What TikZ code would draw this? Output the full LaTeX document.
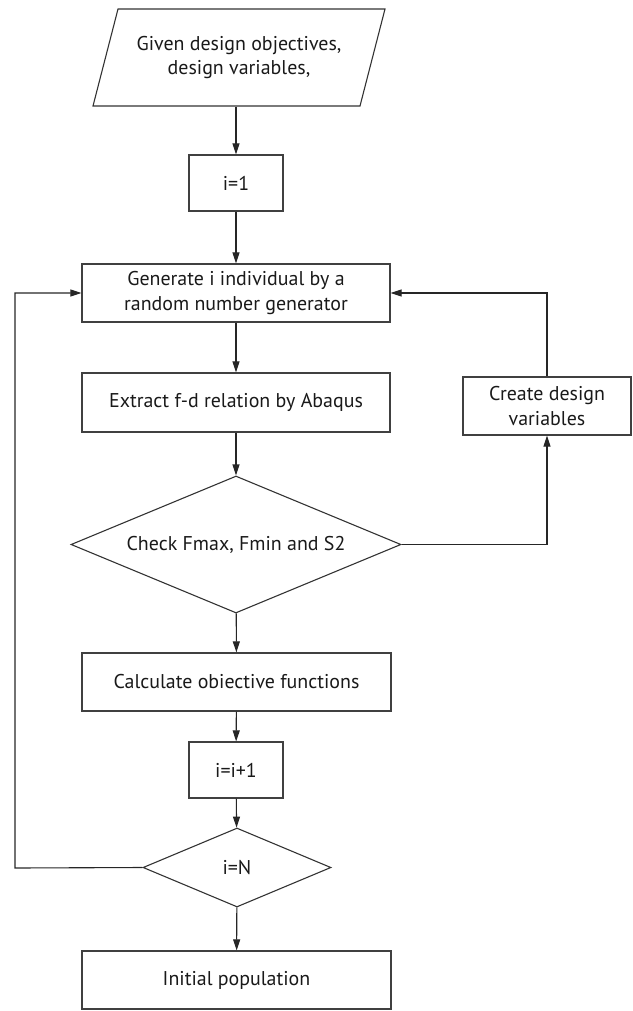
\documentclass[tikz,border=0pt]{standalone}
\usepackage{fontspec}
\setmainfont{PT Sans}
\usetikzlibrary{shapes.geometric,arrows.meta}
\begin{document}
\begin{tikzpicture}[x=1bp,y=-1bp,
  every node/.style={font=\fontsize{20}{25}\selectfont, text=black!90, align=center, inner sep=0pt},
  box/.style={draw=black!75, line width=1.2bp, rectangle},
  dec/.style={draw=black!80, line width=1.1bp, diamond, aspect=2.4},
  io/.style={draw=black!80, line width=1.1bp, trapezium, trapezium left angle=60, trapezium right angle=120, trapezium stretches body=true},
  arr/.style={draw=black!85, line width=1.1bp, -{Triangle[length=11bp,width=7bp]}},
  ln/.style={draw=black!85, line width=1.1bp}]
\useasboundingbox (0,0) rectangle (633,1011);
\node[io, minimum width=292bp, minimum height=97bp] (in) at (239,57.5) {Given design objectives,\\design variables,};
\node[box, minimum width=94bp, minimum height=56bp] (i1) at (236,183) {i=1};
\node[box, minimum width=308bp, minimum height=58bp] (gen) at (236,293) {Generate i individual by a\\random number generator};
\node[box, minimum width=308bp, minimum height=59bp] (ext) at (236,402.5) {Extract f-d relation by Abaqus};
\node[box, minimum width=168bp, minimum height=58bp] (cre) at (547,406) {Create design\\variables};
\node[dec, minimum width=330bp, minimum height=137bp] (chk) at (236,544.5) {Check Fmax, Fmin and S2};
\node[box, minimum width=309bp, minimum height=58bp] (calc) at (236.5,682) {Calculate obiective functions};
\node[box, minimum width=94bp, minimum height=56bp] (inc) at (236,770) {i=i+1};
\node[dec, minimum width=188bp, minimum height=79bp] (chn) at (237,867.5) {i=N};
\node[box, minimum width=309bp, minimum height=58bp] (init) at (236.5,980) {Initial population};
\draw[arr] (in.south -| i1.north) -- (i1.north);
\draw[arr] (i1) -- (gen);
\draw[arr] (gen) -- (ext);
\draw[arr] (ext) -- (chk);
\draw[arr] (chk) -- (calc);
\draw[arr] (calc) -- (inc);
\draw[arr] (inc) -- (chn);
\draw[arr] (chn) -- (init);
\draw[arr] (chk.east) -| (cre.south);
\draw[arr] (cre.north) |- (gen.east);
\coordinate (lft) at (15,868);
\draw[arr] (chn.west) -- (lft) |- (gen.west);
\end{tikzpicture}
\end{document}
